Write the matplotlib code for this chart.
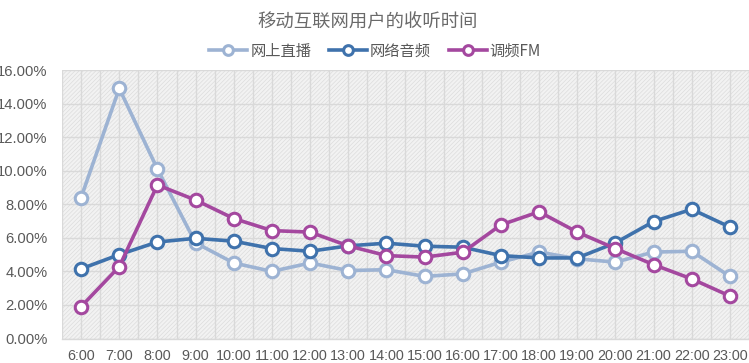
import matplotlib
matplotlib.use("Agg")
import matplotlib.pyplot as plt
from matplotlib.patches import Rectangle
from matplotlib.ticker import FuncFormatter, MultipleLocator
import numpy as np

hours = ["6:00", "7:00", "8:00", "9:00", "10:00", "11:00", "12:00", "13:00", "14:00",
         "15:00", "16:00", "17:00", "18:00", "19:00", "20:00", "21:00", "22:00", "23:00"]
live_streaming = [8.4, 14.9, 10.1, 5.7, 4.5, 4.0, 4.5, 4.05, 4.1, 3.7, 3.85, 4.55,
                  5.15, 4.75, 4.55, 5.15, 5.2, 3.7]
online_audio = [4.15, 5.0, 5.75, 5.97, 5.8, 5.36, 5.2, 5.52, 5.68, 5.5, 5.44, 4.94,
                4.8, 4.8, 5.7, 6.97, 7.7, 6.64]
fm_radio = [1.9, 4.28, 9.15, 8.25, 7.15, 6.43, 6.34, 5.52, 4.94, 4.85, 5.14, 6.77,
            7.55, 6.34, 5.36, 4.4, 3.55, 2.53]

series_names = ["网上直播", "网络音频", "调频FM"]
series_colors = ["#9db3d3", "#3f72ac", "#a4489f"]
title_text = "移动互联网用户的收听时间"

cjk = ["Noto Sans CJK SC", "DejaVu Sans"]
text_gray = "#595959"
grid_gray = "#d9d9d9"

fig = plt.figure(figsize=(7.49, 3.63), dpi=100)
ax = fig.add_axes([62 / 749, 1 - 338.5 / 363, 1 - 62 / 749, (338.5 - 70) / 363])

# hatched plot area
ax.set_facecolor("#f2f2f2")
plt.rcParams["hatch.linewidth"] = 0.5
ax.add_patch(Rectangle((0, 0), 1, 1, transform=ax.transAxes, facecolor="none",
                       edgecolor="#dcdcdc", hatch="////////", linewidth=0, zorder=0))

x = np.arange(len(hours))
for vals, color, name in zip([live_streaming, online_audio, fm_radio], series_colors, series_names):
    ax.plot(x, vals, color=color, lw=2.6, marker="o", markersize=9,
            markerfacecolor="white", markeredgecolor=color, markeredgewidth=2.2,
            label=name, zorder=3)

ax.set_xlim(-0.5, len(hours) - 0.5)
ax.set_ylim(0, 16)
ax.set_xticks(x)
ax.set_xticklabels(hours)
ax.set_xticks(np.arange(-0.5, len(hours), 1.0), minor=True)
ax.yaxis.set_major_locator(MultipleLocator(2))
ax.yaxis.set_major_formatter(FuncFormatter(lambda v, p: f"{v:.2f}%"))

ax.grid(True, which="both", axis="x", color=grid_gray, lw=1.0, zorder=1)
ax.grid(True, which="major", axis="y", color=grid_gray, lw=1.0, zorder=1)
ax.set_axisbelow(True)

for s in ["top", "right", "left"]:
    ax.spines[s].set_visible(False)
ax.spines["bottom"].set_color(grid_gray)
ax.spines["bottom"].set_linewidth(1.0)

ax.tick_params(axis="both", which="both", length=0)
ax.tick_params(axis="x", pad=7.5, labelsize=10.4, labelcolor=text_gray)
ax.tick_params(axis="y", pad=10.5, labelsize=10.6, labelcolor=text_gray)
for lab in ax.get_xticklabels() + ax.get_yticklabels():
    lab.set_fontfamily(["Liberation Sans", "DejaVu Sans"])

fig.text(368 / 749, 1 - 22 / 363, title_text, ha="center", va="center",
         fontsize=13.2, color="#6a6a6a", family=cjk)

leg = fig.legend(loc="center", bbox_to_anchor=(375 / 749, 1 - 51 / 363), ncol=3,
                 frameon=False, prop={"family": cjk, "size": 11},
                 handlelength=2.5, handletextpad=0.2, columnspacing=1.15,
                 labelcolor=text_gray)
for h in leg.legend_handles:
    h.set_markersize(7)
    h.set_linewidth(2.6)

fig.savefig("out.png", dpi=100)
